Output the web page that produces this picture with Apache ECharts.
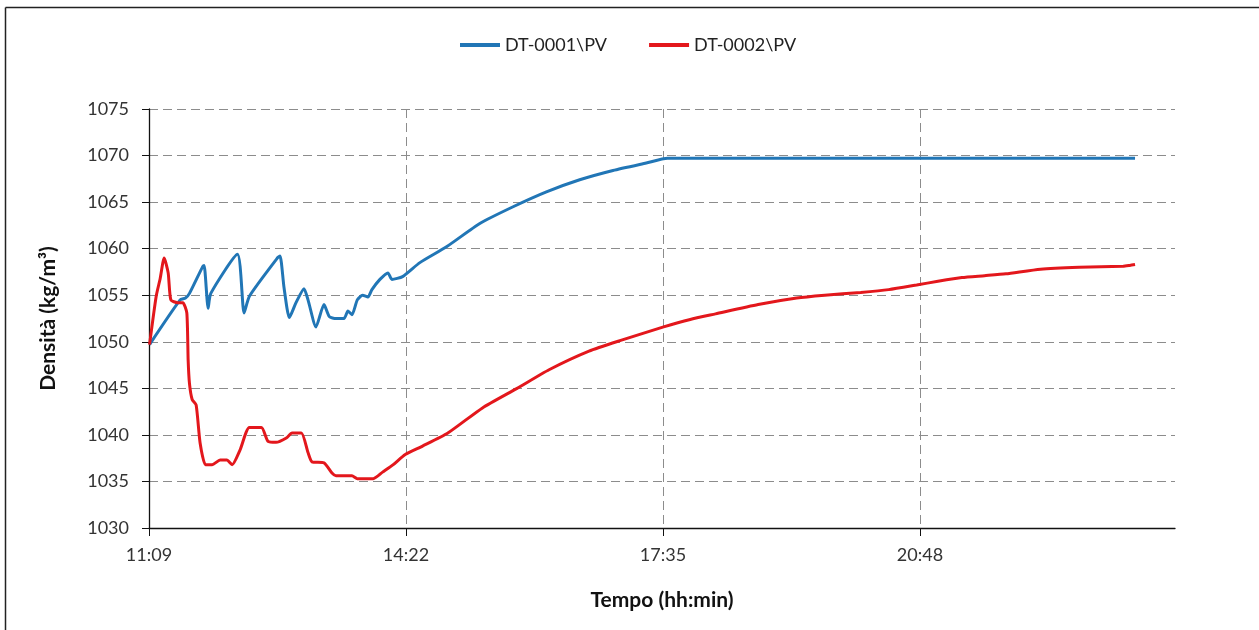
<!DOCTYPE html>
<html>
<head>
<meta charset="utf-8">
<script src="https://cdn.jsdelivr.net/npm/echarts@6/dist/echarts.min.js"></script>
<style>
html,body{margin:0;padding:0;background:#fff;}
#chart{width:1259px;height:630px;}
</style>
</head>
<body>
<div id="chart"></div>
<script>
// ---- data ----
var seriesNames = ['DT-0001\\PV', 'DT-0002\\PV'];
var xTickLabels = ['11:09', '14:22', '17:35', '20:48'];
var yTicks = [1030, 1035, 1040, 1045, 1050, 1055, 1060, 1065, 1070, 1075];

var blueTimes = ['11:10','11:33','11:37','11:40','11:50','11:51','11:54','11:56','12:16','12:21','12:25','12:46','12:48','12:51','12:55','13:00','13:06','13:09','13:15','13:21','13:25','13:30','13:36','13:39','13:42','13:46','13:50','13:54','13:57','14:03','14:09','14:12','14:20','14:33','14:53','15:18','15:43','16:08','16:33','16:58','17:23','17:39','18:30','19:30','20:30','21:30','22:30','23:30'];
var blueValues = [1049.7,1054.5,1054.7,1055.2,1058.1,1058.2,1053.6,1055.2,1059.4,1053.1,1054.9,1059.0,1059.2,1055.8,1052.6,1054.2,1055.7,1054.5,1051.6,1054.0,1052.7,1052.5,1052.5,1053.3,1052.9,1054.5,1055.0,1054.8,1055.6,1056.7,1057.4,1056.7,1057.0,1058.5,1060.2,1062.7,1064.5,1066.1,1067.4,1068.4,1069.2,1069.7,1069.7,1069.7,1069.7,1069.7,1069.7,1069.7];

var redTimes = ['11:10','11:15','11:18','11:21','11:24','11:26','11:31','11:35','11:38','11:39','11:40','11:42','11:45','11:48','11:52','11:57','12:03','12:08','12:12','12:18','12:25','12:34','12:39','12:45','12:53','12:57','13:04','13:09','13:12','13:21','13:27','13:30','13:42','13:46','13:58','14:05','14:13','14:22','14:35','14:54','15:20','15:46','16:10','16:40','17:05','17:36','17:56','18:15','18:47','19:16','19:37','20:04','20:25','20:46','21:02','21:20','21:37','21:53','22:19','22:48','23:21','23:26','23:30'];
var redValues = [1049.7,1054.9,1056.8,1059.0,1057.4,1054.5,1054.2,1054.2,1053.1,1048.0,1045.5,1043.8,1043.2,1039.1,1036.8,1036.8,1037.3,1037.3,1036.8,1038.4,1040.8,1040.8,1039.3,1039.2,1039.7,1040.2,1040.2,1038.1,1037.1,1037.0,1035.9,1035.6,1035.6,1035.3,1035.3,1036.0,1036.8,1037.9,1038.8,1040.2,1042.9,1045.0,1047.0,1049.0,1050.2,1051.6,1052.4,1053.0,1054.0,1054.7,1055.0,1055.3,1055.6,1056.1,1056.5,1056.9,1057.1,1057.3,1057.8,1058.0,1058.1,1058.2,1058.3];

// ---- helpers ----
function toMin(s){ var p = s.split(':'); return (+p[0]) * 60 + (+p[1]); }
function pairs(t, v){ return t.map(function(s, i){ return [toMin(s), v[i]]; }); }
function fmt(m){ var h = Math.floor(m / 60), mm = Math.floor(m - h * 60 + 1e-6); return h + ':' + (mm < 10 ? '0' : '') + mm; }

var X_MIN = 669.6, X_INT = 192.96, X_MAX = 1440;
var FONT = 'Lato, "Open Sans", sans-serif';

var chart = echarts.init(document.getElementById('chart'), null, {renderer: 'canvas'});
chart.setOption({
  animation: false,
  backgroundColor: '#ffffff',
  graphic: [
    {type: 'line', shape: {x1: 5.5, y1: 7.5, x2: 1259, y2: 7.5}, style: {stroke: '#222', lineWidth: 1.5}, silent: true},
    {type: 'line', shape: {x1: 5.5, y1: 7.5, x2: 5.5, y2: 630}, style: {stroke: '#222', lineWidth: 1.5}, silent: true}
  ],
  legend: {
    top: 31, left: 455,
    icon: 'rect', itemWidth: 40, itemHeight: 4, itemGap: 42,
    textStyle: {fontFamily: FONT, fontSize: 18, color: '#222', padding: [0, 0, 0, 0]},
    data: seriesNames
  },
  grid: {left: 149, right: 84, top: 109, bottom: 102, containLabel: false},
  xAxis: {
    type: 'value', min: X_MIN, max: X_MAX, interval: X_INT,
    name: 'Tempo (hh:min)', nameLocation: 'middle', nameGap: 62,
    nameTextStyle: {fontFamily: FONT, fontSize: 21, fontWeight: 'bold', color: '#111'},
    axisLine: {show: true, lineStyle: {color: '#111', width: 1.3}},
    axisTick: {show: true, inside: false, length: 8, lineStyle: {color: '#111'}},
    axisLabel: {
      margin: 18, fontFamily: FONT, fontSize: 18, color: '#333', showMaxLabel: false,
      formatter: function(v){ return v > 1400 ? '' : fmt(v); }
    },
    splitLine: {show: true, showMaxLine: false, lineStyle: {color: '#8c8c8c', type: [9, 5], width: 1}}
  },
  yAxis: {
    type: 'value', min: 1030, max: 1075, interval: 5,
    name: 'Densità (kg/m³)', nameLocation: 'middle', nameGap: 90, nameRotate: 90,
    nameTextStyle: {fontFamily: FONT, fontSize: 21, fontWeight: 'bold', color: '#111'},
    axisLine: {show: true, lineStyle: {color: '#111', width: 1.3}},
    axisTick: {show: true, inside: false, length: 7, lineStyle: {color: '#111'}},
    axisLabel: {margin: 20, fontFamily: FONT, fontSize: 18, color: '#333',
      formatter: function(v){ return String(v); }},
    splitLine: {show: true, lineStyle: {color: '#8c8c8c', type: [9, 5], width: 1}}
  },
  series: [
    {name: seriesNames[0], type: 'line', data: pairs(blueTimes, blueValues), showSymbol: false, smooth: 0.2,
     lineStyle: {color: '#2176B6', width: 3}, itemStyle: {color: '#2176B6'}},
    {name: seriesNames[1], type: 'line', data: pairs(redTimes, redValues), showSymbol: false, smooth: 0.2,
     lineStyle: {color: '#E3171C', width: 3}, itemStyle: {color: '#E3171C'}}
  ]
});
</script>
</body>
</html>
